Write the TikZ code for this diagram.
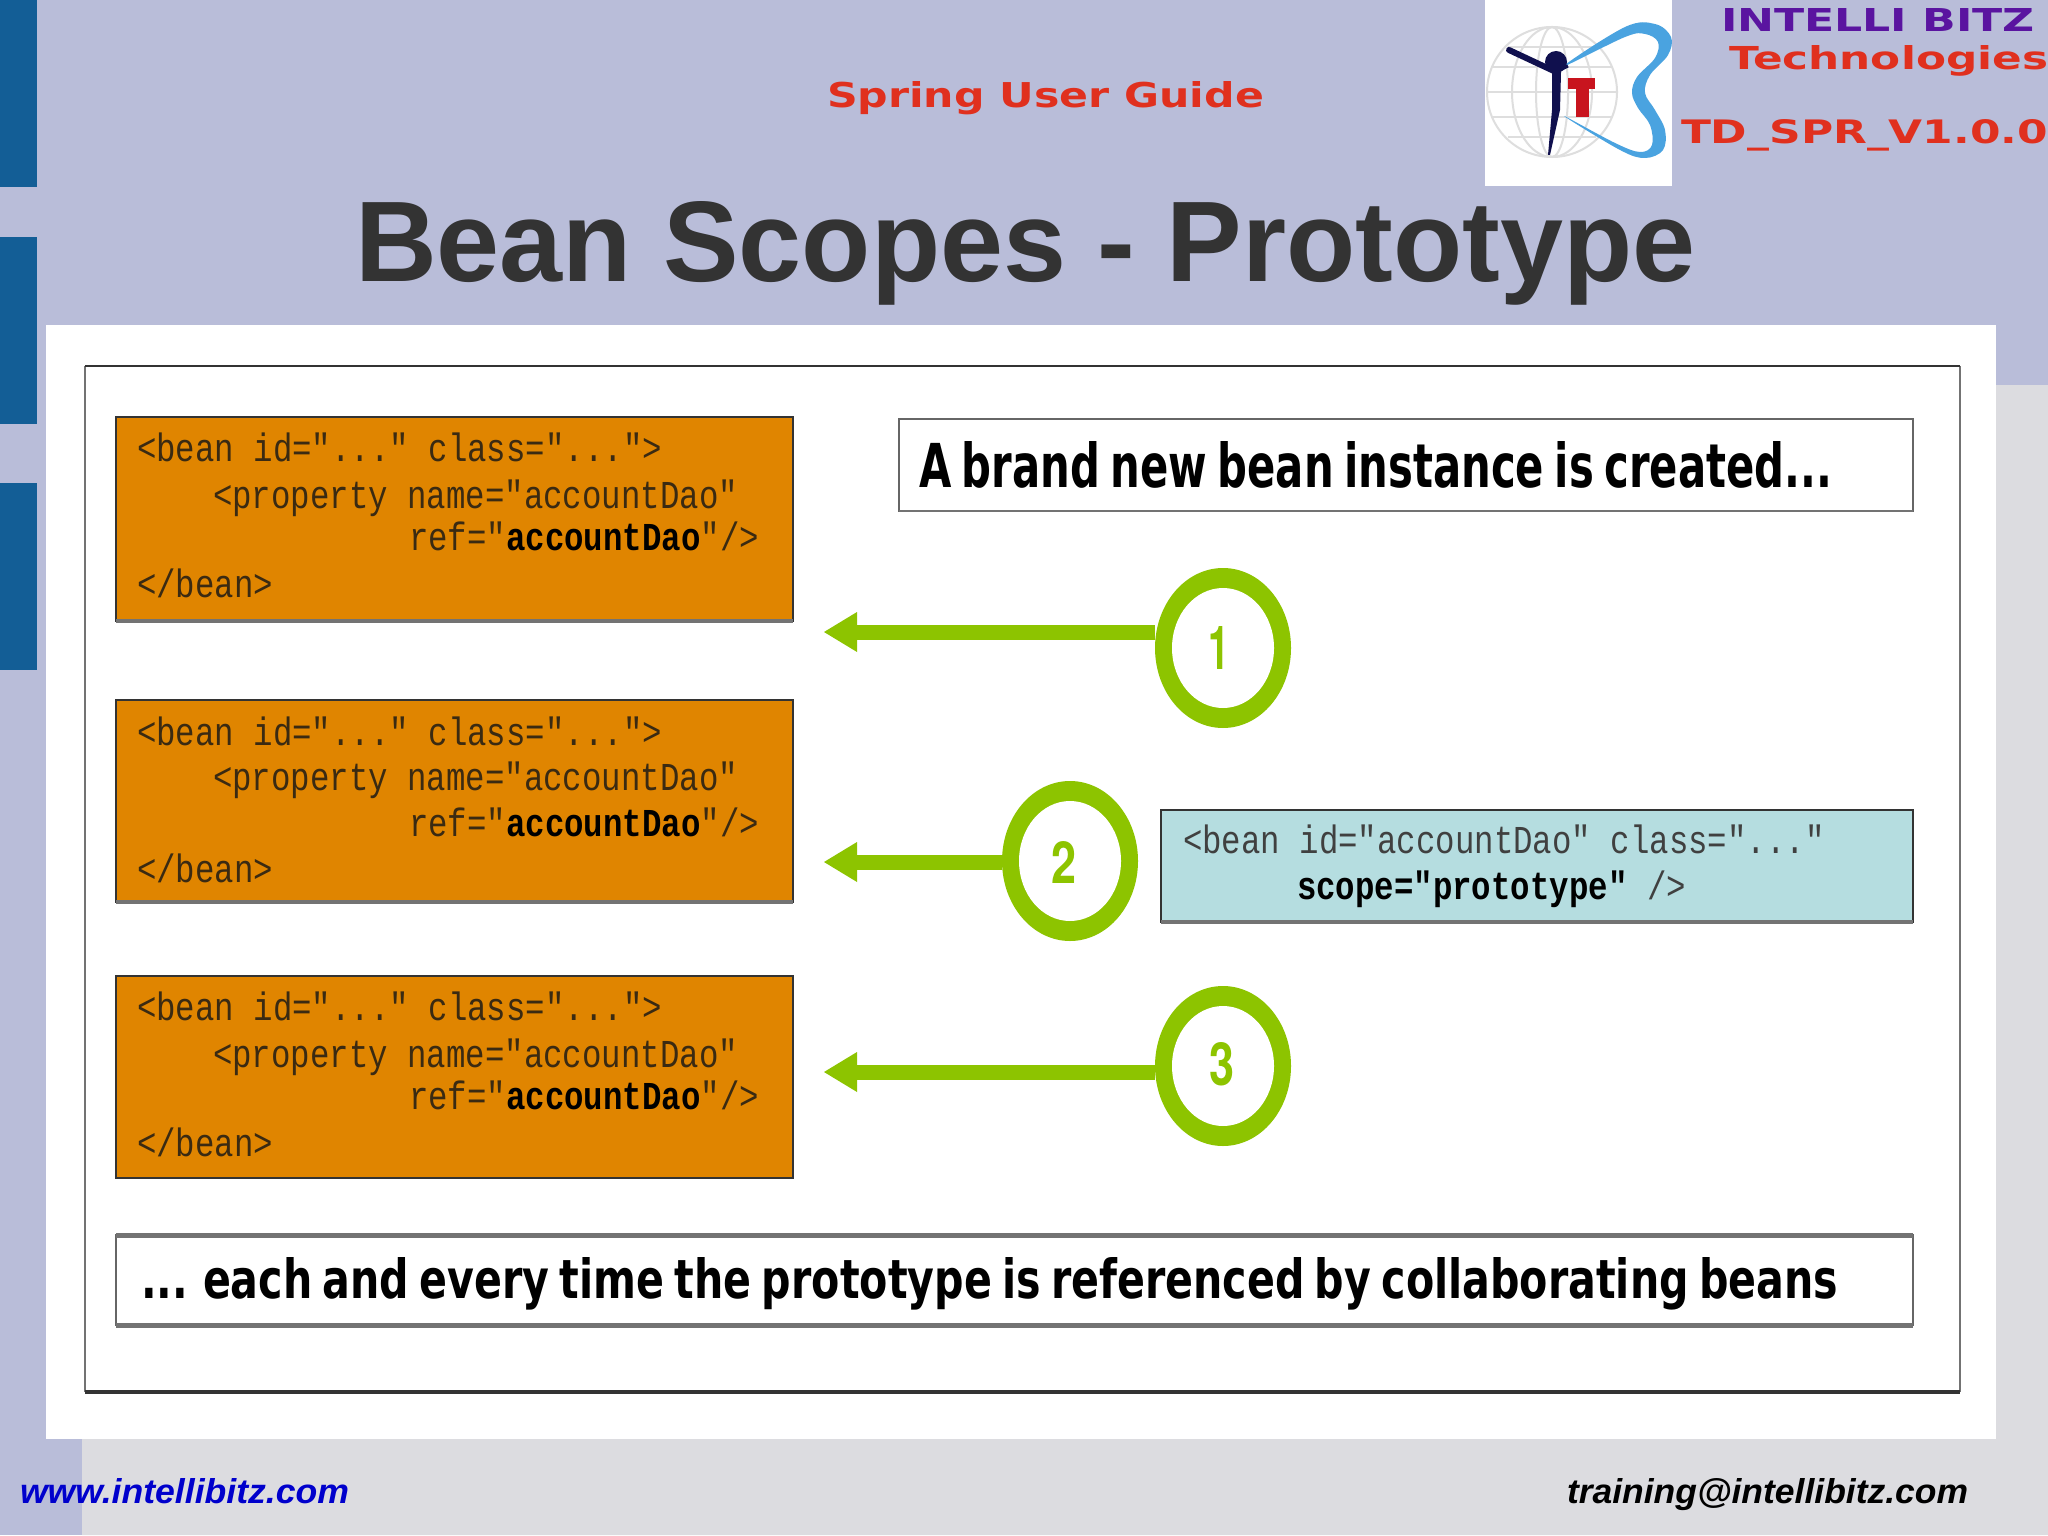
\documentclass[tikz,border=0pt]{standalone}
\usepackage{fontspec}
\usepackage{graphicx}
\usetikzlibrary{shapes.geometric}
\setmainfont{Liberation Sans}
\newfontfamily\codefont{Liberation Mono}
\newfontfamily\wideface{DejaVu Sans}
\newfontfamily\digitface{TeX Gyre Heros}
\definecolor{lav}{HTML}{B9BDD9}
\definecolor{greybg}{HTML}{DCDCE0}
\definecolor{tab}{HTML}{135E96}
\definecolor{org}{HTML}{E08500}
\definecolor{ltblue}{HTML}{B5DDE0}
\definecolor{grn}{HTML}{8DC400}
\definecolor{redt}{HTML}{E0301E}
\definecolor{purp}{HTML}{5A14A0}
\definecolor{logoblue}{HTML}{4AA3E0}
\definecolor{navy2}{HTML}{10104E}
\definecolor{logored}{HTML}{C8141E}
\definecolor{codeink}{HTML}{3A2A12}
\newcommand\fitbox[3]{\resizebox{#1pt}{#2pt}{#3}}
\newcommand\codeline[1]{\scalebox{1}[1.22]{\codefont\fontsize{16.2pt}{18pt}\selectfont #1}}
\newcommand\headstyle{\wideface\bfseries\spaceskip=0.25em\relax}
\tikzset{
  x=0.5pt,y=-0.5pt,
  txt/.style={inner sep=0pt,outer sep=0pt,anchor=base west},
  beanbox/.style={rectangle,draw=black!80,line width=1pt,fill=org,minimum width=338.5pt,minimum height=102pt,anchor=north west,inner sep=0pt,outer sep=0pt},
  whitebox/.style={rectangle,draw=black!60,line width=0.8pt,fill=white,anchor=north west,inner sep=0pt,outer sep=0pt},
  ringout/.style={ellipse,fill=grn,minimum width=68pt,minimum height=80pt,inner sep=0pt,outer sep=0pt},
  ringin/.style={ellipse,fill=white,minimum width=51pt,minimum height=60pt,inner sep=0pt,outer sep=0pt},
  shaft/.style={draw=grn,line width=7.5pt},
  arrowhead/.style={fill=grn},
  shade/.style={draw=black!55,line width=2.2pt},
}
\newcommand\beantext[5]{%
  \node[txt] (#1a) at (137,#2) {\codeline{\textcolor{codeink}{<bean id="..." class="...">}}};
  \node[txt] (#1b) at (213,#3) {\codeline{\textcolor{codeink}{<property name="accountDao"}}};
  \node[txt] (#1c) at (409,#4) {\codeline{\textcolor{codeink}{ref="}\textcolor{black}{\bfseries accountDao}\textcolor{codeink}{"/>}}};
  \node[txt] (#1d) at (137,#5) {\codeline{\textcolor{codeink}{</bean>}}};
}
\begin{document}
\begin{tikzpicture}
\useasboundingbox (0,0) rectangle (2048,1535);
% backgrounds
\fill[lav] (0,0) rectangle (2048,1535);
\fill[greybg] (1996,385) -- (2048,385) -- (2048,1535) -- (82,1535) -- (82,1439) -- (1996,1439) -- cycle;
\fill[tab] (0,0) rectangle (37,187);
\fill[tab] (0,237) rectangle (37,424);
\fill[tab] (0,483) rectangle (37,670);
\fill[white] (46,325) rectangle (1996,1439);
% header
\node[txt,text=redt] (guide) at (827,108) {\fitbox{218.5}{13}{\wideface\bfseries Spring User Guide}};
\node[txt,text=purp] (ib) at (1721,32) {\fitbox{157}{11.5}{\wideface\bfseries INTELLI BITZ}};
\node[txt,text=redt] (tech) at (1729,70) {\fitbox{159.5}{12}{\wideface\bfseries Technologies}};
\node[txt,text=redt] (ver) at (1681,144) {\fitbox{183.5}{12}{\wideface\bfseries TD\_SPR\_V1.0.0}};
\node[txt,text=black!80] (title) at (355,282) {\fitbox{670}{40}{\bfseries Bean Scopes - Prototype}};
% logo
\fill[white] (1485,0) rectangle (1672,186);
\begin{scope}[draw=black!13,line width=1pt]
  \draw (1552,92) circle [radius=32.5pt];
  \draw (1552,92) ellipse [x radius=20pt,y radius=32.5pt];
  \draw (1552,92) ellipse [x radius=8pt,y radius=32.5pt];
  \draw (1487,92) -- (1617,92);
  \draw (1492,67) -- (1612,67);
  \draw (1492,117) -- (1612,117);
  \draw (1508,47) -- (1596,47);
  \draw (1508,137) -- (1596,137);
\end{scope}
\fill[logoblue] plot[smooth cycle,tension=0.6] coordinates {(1564,66) (1625,27) (1655,24) (1671,37) (1668,55) (1650,75) (1645,93) (1655,110) (1665,130) (1663,150) (1645,158) (1620,150) (1564,116) (1615,143) (1640,152) (1652,145) (1650,125) (1638,108) (1632,93) (1637,77) (1655,58) (1658,42) (1645,34) (1625,37)};
\fill[logored] (1568,78) rectangle (1595,89);
\fill[logored] (1576,89) rectangle (1589,117);
\fill[navy2] (1556,62) circle [radius=5.5pt];
\draw[navy2,line width=3pt,line cap=round] (1509,50) -- (1556,72);
\draw[navy2,line width=1.5pt] (1556,72) -- (1568,66);
\fill[navy2] (1552,70) -- (1561,72) -- (1560,110) -- (1550,155) -- (1548,155) -- (1552,110) -- cycle;
% main frame
\draw[black!55,line width=1pt] (85,366) -- (85,1392);
\draw[black!55,line width=1pt] (1960,366) -- (1960,1392);
\draw[black!80,line width=1.2pt] (85,366) -- (1960,366);
\draw[black!80,line width=1.8pt] (85,1392) -- (1960,1392);
% bean boxes
\node[beanbox] (b1) at (116,417) {};
\node[beanbox,minimum height=101pt] (b2) at (116,700) {};
\node[beanbox,minimum height=101pt] (b3) at (116,976) {};
\draw[shade] (b1.south west) -- (b1.south east);
\draw[shade] (b2.south west) -- (b2.south east);
\beantext{p}{461}{508}{550}{597}
\beantext{q}{745}{790}{836}{882}
\beantext{r}{1020}{1067}{1109}{1156}
% top and bottom white boxes
\node[whitebox,minimum width=507pt,minimum height=46pt] (head) at (899,419) {};
\draw[shade,line width=1.2pt] (head.south west) -- (head.south east);
\node[txt] (headt) at (919,487) {\fitbox{456.5}{23}{\headstyle A brand new bean instance is created...}};
\node[whitebox,minimum width=898.5pt,minimum height=45pt] (foot) at (116,1235) {};
\draw[shade,line width=2.5pt] (foot.north west) -- (foot.north east);
\draw[shade,line width=2.5pt] (foot.south west) -- (foot.south east);
\node[txt] (foott) at (141,1298) {\fitbox{848.5}{20.5}{\headstyle ... each and every time the prototype is referenced by collaborating beans}};
% light blue box
\node[whitebox,fill=ltblue,draw=black!80,minimum width=376pt,minimum height=56pt] (scopebox) at (1161,810) {};
\draw[shade] (scopebox.south west) -- (scopebox.south east);
\node[txt] (s1) at (1183,853) {\codeline{\textcolor{black!75}{<bean id="accountDao" class="..."}}};
\node[txt] (s2) at (1297,899) {\codeline{\textcolor{black}{\bfseries scope="prototype"}\textcolor{black!75}{~/>}}};
% circles
\node[ringout] (c1) at (1223,648) {};
\node[ringin] (c1i) at (1223,648) {};
\node[ringout] (c2) at (1070,861) {};
\node[ringin] (c2i) at (1070,861) {};
\node[ringout] (c3) at (1223,1066) {};
\node[ringin] (c3i) at (1223,1066) {};
\node[inner sep=0pt,text=grn] (d1) at (1219,648) {\fitbox{10.5}{21.5}{\digitface\bfseries 1}};
\node[inner sep=0pt,text=grn] (d2) at (1064,862) {\fitbox{12.5}{21}{\digitface\bfseries 2}};
\node[inner sep=0pt,text=grn] (d3) at (1222,1064) {\fitbox{12.5}{21.5}{\digitface\bfseries 3}};
% arrows
\coordinate (t1) at (857,632);
\coordinate (t2) at (857,862);
\coordinate (t3) at (857,1072);
\draw[shaft] (c1.west |- t1) -- (t1);
\draw[shaft] (c2.west |- t2) -- (t2);
\draw[shaft] (c3.west |- t3) -- (t3);
\fill[arrowhead] (824,632) -- (857,612) -- (857,652) -- cycle;
\fill[arrowhead] (824,862) -- (857,842) -- (857,882) -- cycle;
\fill[arrowhead] (824,1072) -- (857,1052) -- (857,1092) -- cycle;
% footer
\node[txt,text=blue!80!black] (web) at (20,1503) {\fitbox{164.5}{12.5}{\bfseries\itshape www.intellibitz.com}};
\node[txt,text=black] (mail) at (1567,1503) {\fitbox{200.5}{12.5}{\bfseries\itshape training@intellibitz.com}};
\end{tikzpicture}
\end{document}
